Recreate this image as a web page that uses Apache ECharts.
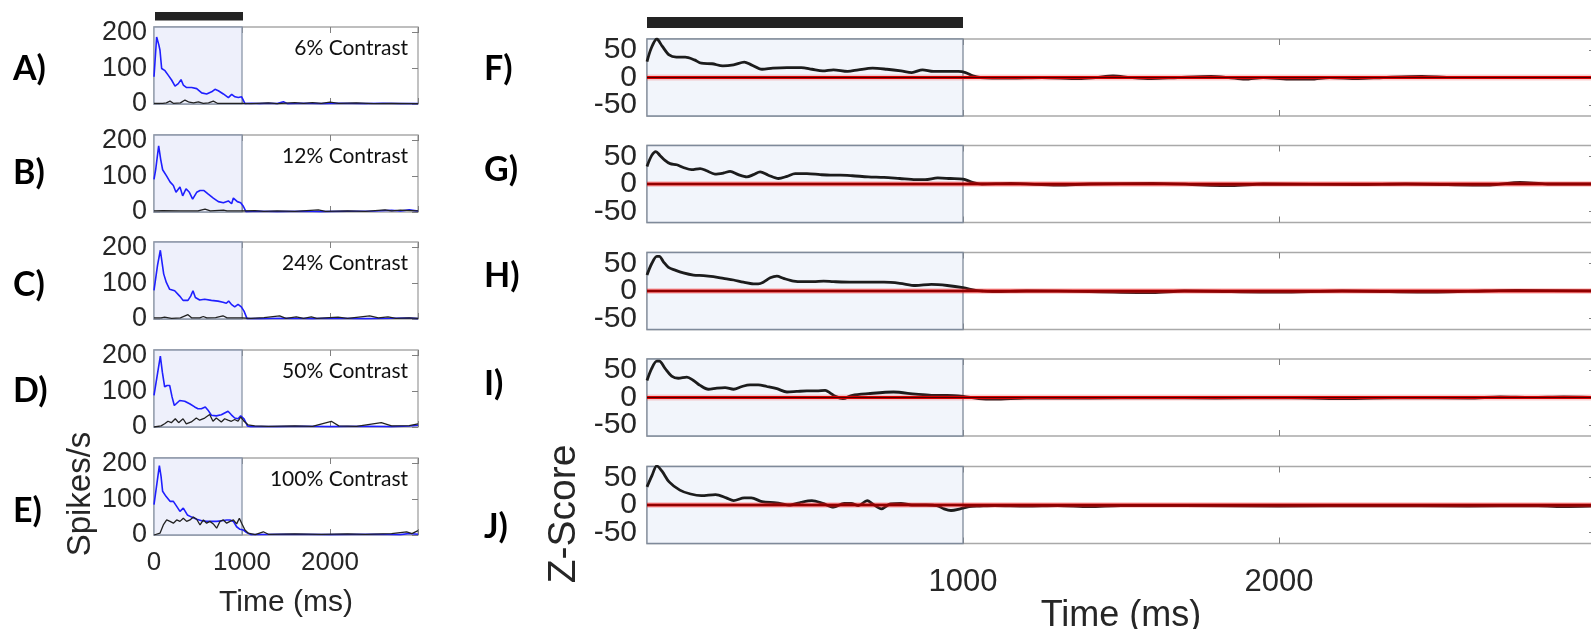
<!DOCTYPE html>
<html>
<head>
<meta charset="utf-8">
<script src="https://cdn.jsdelivr.net/npm/echarts@6/dist/echarts.min.js"></script>
<style>
  html, body { margin: 0; padding: 0; background: #fff; }
  #chart { width: 1591px; height: 629px; }
</style>
</head>
<body>
<div id="chart"></div>
<script>
// ---- axes, ticks and labels ----
const timeRange = [0, 3000];
const timeTicks = [0, 1000, 2000, 3000];
const leftTimeLabels = [0, 1000, 2000];
const rightTimeLabels = [1000, 2000];
const stimulus = [0, 1000];
const rateRange = [0, 215];
const rateTicks = [0, 100, 200];
const zRange = [-70, 70];
const zTicks = [-50, 0, 50];
const zBaseline = [[0, 0], [3000, 0]];
const contrasts = ['6% Contrast', '12% Contrast', '24% Contrast', '50% Contrast', '100% Contrast'];
const leftPanelLabels = ['A)', 'B)', 'C)', 'D)', 'E)'];
const rightPanelLabels = ['F)', 'G)', 'H)', 'I)', 'J)'];

// ---- firing rates, [time (ms), spikes/s] ----
const blue6 = [[0,76],[30,187],[42,187],[55,165],[68,150],[87,99],[125,93],[163,80],[200,67],[239,50],[276,57],[307,68],[333,53],[371,46],[428,46],[485,43],[542,31],[598,28],[655,34],[693,41],[731,37],[788,28],[845,18],[883,27],[920,20],[958,18],[996,20],[1034,1],[1100,2],[1200,1],[1300,2],[1400,1],[1470,6],[1520,1],[1700,2],[1900,1],[2100,2],[2400,1],[2600,2],[2800,1],[3000,1]];
const black6 = [[0,2],[100,2],[140,3],[182,8],[220,2],[300,3],[352,11],[400,5],[450,3],[504,6],[560,2],[620,3],[674,8],[720,2],[800,2],[1000,2],[1100,1],[1300,3],[1400,1],[1600,4],[1700,2],[1800,4],[1900,2],[2000,5],[2100,2],[2300,3],[2500,1],[2700,2],[3000,1]];

const blue12 = [[0,91],[20,120],[53,185],[76,147],[98,118],[144,100],[182,84],[220,74],[250,55],[295,70],[326,45],[364,65],[402,55],[439,36],[485,55],[523,60],[568,60],[617,50],[674,39],[731,29],[788,26],[845,31],[882,23],[902,39],[947,29],[985,26],[1015,16],[1045,1],[1200,2],[1400,1],[1700,2],[1900,1],[2200,2],[2500,3],[2700,5],[2800,3],[2900,6],[3000,3]];
const black12 = [[0,3],[100,4],[300,3],[500,3],[580,8],[640,3],[790,5],[830,3],[1000,3],[1148,4],[1250,2],[1400,3],[1600,2],[1867,6],[1950,2],[2200,3],[2400,2],[2625,6],[2700,3],[2800,5],[3000,3]];

const blue24 = [[0,80],[40,150],[72,192],[91,159],[110,126],[140,102],[178,83],[235,79],[292,64],[330,52],[386,52],[417,64],[443,79],[470,60],[519,53],[576,55],[652,52],[727,50],[784,47],[822,44],[848,50],[879,41],[917,34],[955,41],[992,34],[1023,22],[1057,1],[1200,1],[1500,2],[1800,1],[2000,2],[2400,1],[2700,2],[2900,3],[3000,1]];
const black24 = [[0,3],[80,3],[120,5],[200,2],[300,3],[386,12],[430,3],[520,3],[560,7],[600,3],[700,4],[784,9],[830,3],[1000,3],[1100,2],[1250,4],[1428,9],[1500,2],[1617,6],[1700,2],[1788,6],[1850,2],[2091,5],[2200,2],[2451,9],[2550,3],[2659,6],[2750,2],[2900,3],[3000,2]];

const blue50 = [[0,88],[72,198],[95,153],[121,112],[148,116],[178,116],[205,84],[231,60],[292,74],[349,72],[405,65],[462,56],[500,51],[538,51],[583,56],[614,47],[652,33],[708,31],[765,34],[841,44],[879,34],[917,25],[955,23],[985,31],[1023,23],[1061,3],[1100,1],[1400,1],[1700,2],[2000,1],[2400,2],[2700,1],[2900,3],[3000,5]];
const black50 = [[0,0],[80,3],[121,9],[159,16],[197,12],[242,23],[280,12],[330,23],[367,9],[424,14],[481,25],[519,19],[576,25],[633,35],[670,16],[708,25],[765,14],[803,23],[841,19],[879,16],[917,21],[955,16],[985,28],[1023,16],[1068,6],[1144,3],[1300,2],[1600,3],[1800,2],[2015,16],[2100,3],[2300,2],[2583,12],[2700,3],[2900,4],[3000,9]];

const blue100 = [[0,85],[61,194],[80,164],[98,122],[136,108],[182,94],[220,94],[258,80],[295,66],[333,75],[379,56],[428,50],[485,44],[542,40],[598,38],[655,38],[712,38],[769,40],[826,42],[864,42],[902,38],[939,23],[977,16],[1015,14],[1053,7],[1100,1],[1500,2],[2000,1],[2500,2],[2800,1],[2900,4],[3000,2]];
const black100 = [[0,0],[68,5],[106,28],[144,42],[182,38],[220,33],[258,42],[295,38],[333,47],[371,38],[409,42],[447,50],[485,44],[523,28],[561,42],[598,33],[636,38],[674,31],[712,19],[750,38],[788,42],[826,33],[864,38],[902,42],[939,31],[970,47],[996,33],[1034,14],[1072,5],[1150,1],[1242,9],[1300,2],[1600,3],[1900,2],[2200,3],[2400,2],[2700,4],[2871,9],[2930,4],[3000,12]];

// ---- z-scores, [time (ms), z] ----
const zScore6 = [[0,29],[14,54],[31,70],[48,57],[70,41],[93,37],[121,37],[150,32],[172,26],[206,25],[240,21],[274,23],[308,28],[330,23],[364,15],[398,17],[443,18],[488,18],[522,15],[556,12],[590,14],[635,11],[669,14],[714,17],[759,15],[804,12],[838,9],[872,14],[906,11],[940,11],[985,11],[1008,9],[1031,3],[1054,0],[1150,-1],[1250,0],[1367,-2],[1420,0],[1475,3],[1530,0],[1595,-2],[1680,0],[1785,2],[1840,0],[1892,-3],[1950,0],[2030,-3],[2100,-3],[2160,0],[2250,-2],[2330,0],[2452,2],[2550,0],[2800,0],[3000,0]];
const zScore12 = [[0,32],[15,52],[28,59],[41,52],[57,43],[73,37],[94,35],[115,30],[141,26],[168,28],[189,24],[215,18],[242,20],[263,23],[289,17],[316,13],[337,17],[358,22],[384,16],[416,10],[443,14],[469,19],[506,19],[548,17],[580,16],[612,16],[650,15],[700,13],[750,12],[800,10],[850,8],[880,8],[920,11],[960,10],[1000,9],[1030,3],[1060,0],[1150,1],[1300,-2],[1400,0],[1600,1],[1850,-3],[1950,0],[2250,-1],[2400,0],[2668,-2],[2763,3],[2850,0],[3000,0]];
const zScore24 = [[0,29],[15,50],[31,63],[39,63],[52,53],[68,43],[89,38],[115,33],[147,29],[179,28],[210,26],[242,23],[274,20],[305,16],[337,13],[352,13],[368,16],[390,24],[411,27],[432,23],[464,18],[495,17],[527,17],[559,18],[590,17],[650,16],[700,16],[750,16],[800,14],[850,10],[900,12],[950,10],[1000,6],[1040,1],[1060,0],[1100,-1],[1200,0],[1400,-1],[1600,-3],[1700,0],[2000,-2],[2200,0],[2500,-2],[2650,0],[2750,1],[3000,0]];
const zScore50 = [[0,31],[15,53],[31,66],[39,66],[57,53],[78,39],[99,35],[126,37],[147,31],[168,22],[194,15],[221,17],[247,18],[274,15],[300,20],[326,23],[352,23],[379,20],[411,16],[443,10],[474,11],[506,12],[537,12],[564,13],[580,8],[596,2],[620,-2],[650,4],[700,7],[780,10],[850,6],[900,4],[950,4],[1000,2],[1050,-2],[1100,-3],[1200,-1],[1400,-1],[1600,0],[1800,-1],[2000,0],[2200,-2],[2400,0],[2600,-1],[2700,1],[2800,0],[2900,1],[3000,0]];
const zScore100 = [[0,33],[16,54],[31,71],[48,61],[70,42],[104,27],[138,20],[172,17],[217,19],[251,13],[274,8],[308,13],[330,13],[364,6],[409,4],[454,0],[488,5],[522,8],[556,3],[590,-4],[624,3],[646,3],[669,-1],[697,8],[714,2],[742,-7],[770,2],[804,3],[838,0],[883,0],[917,-1],[940,-7],[962,-10],[991,-7],[1019,-3],[1053,-2],[1100,-1],[1200,-2],[1300,-1],[1400,-3],[1500,-1],[1700,-1],[2000,-2],[2300,-1],[2600,-2],[2800,-1],[2900,-3],[3000,-2]];

const rateBlue = [blue6, blue12, blue24, blue50, blue100];
const rateBlack = [black6, black12, black24, black50, black100];
const zScores = [zScore6, zScore12, zScore24, zScore50, zScore100];

// ---- layout ----
const LEFT = { left: 154, width: 264, height: 77, tops: [27, 135, 242, 350, 458] };
const RIGHT = { left: 647, width: 948, height: 77, tops: [39, 145.5, 252.5, 359, 466.5] };
const leftLetterY = [69, 173, 285, 391, 511];
const rightLetterY = [69, 170, 276, 384, 527];

const TXT = '#262626';
const AXFONT = 'Liberation Sans, Arial, sans-serif';
const plain = (v) => String(v);

const grids = [], xAxes = [], yAxes = [], series = [], graphics = [];

function addGrid(box) {
  grids.push(Object.assign({ containLabel: false, outerBoundsMode: 'none' }, box));
  return grids.length - 1;
}

function tick(vals) {
  return { show: true, inside: true, length: 6, lineStyle: { color: '#808080', width: 1 }, customValues: vals };
}
const noLine = { show: false, onZero: false };

function addAxes(g, o) {
  const xi = xAxes.length;
  xAxes.push({
    gridIndex: g, type: 'value', position: 'bottom', min: timeRange[0], max: timeRange[1],
    axisLine: noLine, splitLine: { show: false }, axisTick: tick(timeTicks),
    axisLabel: {
      show: !!o.xLabels, customValues: o.xLabels || timeTicks, color: TXT, formatter: plain,
      fontFamily: AXFONT, fontSize: o.xFont, margin: o.xMargin, hideOverlap: false
    },
    name: o.xName || '', nameLocation: 'middle', nameGap: o.xNameGap,
    nameTextStyle: { color: TXT, fontFamily: AXFONT, fontSize: o.xNameFont }
  });
  xAxes.push({
    gridIndex: g, type: 'value', position: 'top', min: timeRange[0], max: timeRange[1],
    axisLine: noLine, splitLine: { show: false }, axisTick: tick(timeTicks),
    axisLabel: { show: false, customValues: timeTicks }
  });
  const yi = yAxes.length;
  // y tick labels are split over two overlaid axes so that closely spaced
  // large labels are never dropped by the label-overlap pass
  const yLabelStyle = (vals) => ({
    show: true, customValues: vals, color: TXT, formatter: plain, fontFamily: AXFONT,
    fontSize: o.yFont, margin: o.yMargin, hideOverlap: false, showMinLabel: true, showMaxLabel: true
  });
  yAxes.push({
    gridIndex: g, type: 'value', position: 'left', min: o.yRange[0], max: o.yRange[1],
    axisLine: noLine, splitLine: { show: false }, axisTick: tick(o.yTicks),
    axisLabel: yLabelStyle(o.yTicks.filter((_, k) => k % 2 === 0))
  });
  yAxes.push({
    gridIndex: g, type: 'value', position: 'left', min: o.yRange[0], max: o.yRange[1],
    axisLine: noLine, splitLine: { show: false }, axisTick: { show: false },
    axisLabel: yLabelStyle(o.yTicks.filter((_, k) => k % 2 === 1))
  });
  yAxes.push({
    gridIndex: g, type: 'value', position: 'right', min: o.yRange[0], max: o.yRange[1],
    axisLine: noLine, splitLine: { show: false }, axisTick: tick(o.yTicks),
    axisLabel: { show: false, customValues: o.yTicks }
  });
  return { xi, yi };
}

// black bar marking the stimulus window
function addStimulusBar(box) {
  const g = addGrid(box);
  const xi = xAxes.length, yi = yAxes.length;
  xAxes.push({ gridIndex: g, type: 'value', min: timeRange[0], max: timeRange[1], show: false });
  yAxes.push({ gridIndex: g, type: 'value', min: 0, max: 1, show: false });
  series.push({
    type: 'custom', xAxisIndex: xi, yAxisIndex: yi, silent: true, data: [stimulus],
    renderItem(params, api) {
      const a = api.coord([api.value(0), 0]);
      const b = api.coord([api.value(1), 0]);
      const cs = params.coordSys;
      return { type: 'rect', shape: { x: a[0], y: cs.y, width: b[0] - a[0], height: cs.height }, style: { fill: '#232323' } };
    }
  });
}

function shade(fill, border) {
  return {
    silent: true, z: 1,
    itemStyle: { color: fill, borderColor: border, borderWidth: 1.3 },
    data: [[{ xAxis: stimulus[0] }, { xAxis: stimulus[1] }]]
  };
}

function label(text, x, y, font, opts) {
  return {
    type: 'text', x, y,
    style: Object.assign({ text, font, fill: TXT, align: 'center', verticalAlign: 'middle', textAlign: 'center', textVerticalAlign: 'middle' }, opts || {})
  };
}

const boxStyle = { show: true, backgroundColor: '#fff', borderColor: '#a9a9a9', borderWidth: 1.4 };

// ---- left column: firing rates ----
addStimulusBar({ left: LEFT.left + 1, width: LEFT.width, top: 12, height: 8.5 });
for (let i = 0; i < 5; i++) {
  const last = i === 4;
  const g = addGrid(Object.assign({ left: LEFT.left, top: LEFT.tops[i], width: LEFT.width, height: LEFT.height }, boxStyle));
  const ax = addAxes(g, {
    yRange: rateRange, yTicks: rateTicks, yFont: 27, yMargin: 7,
    xLabels: last ? leftTimeLabels : null, xFont: 26, xMargin: 15,
    xName: last ? 'Time (ms)' : '', xNameGap: 53, xNameFont: 30
  });
  series.push({
    type: 'line', xAxisIndex: ax.xi, yAxisIndex: ax.yi, data: rateBlue[i], symbol: 'none',
    lineStyle: { color: '#1f1fff', width: 1.6 }, z: 3, markArea: shade('#eef0fb', '#8c97aa')
  });
  series.push({
    type: 'line', xAxisIndex: ax.xi, yAxisIndex: ax.yi, data: rateBlack[i], symbol: 'none',
    lineStyle: { color: '#222', width: 1.3 }, z: 4
  });
  graphics.push(label(contrasts[i], LEFT.left + LEFT.width - 10, LEFT.tops[i] + 21,
    '21px Lato, "Open Sans", sans-serif', { fill: '#111', align: 'right', textAlign: 'right' }));
  graphics.push(label(leftPanelLabels[i], 13, leftLetterY[i],
    'bold 34px Lato, "Open Sans", sans-serif', { fill: '#000', align: 'left', textAlign: 'left' }));
}

// ---- right column: z-scores ----
addStimulusBar({ left: RIGHT.left, width: RIGHT.width, top: 17, height: 11 });
for (let i = 0; i < 5; i++) {
  const last = i === 4;
  const g = addGrid(Object.assign({ left: RIGHT.left, top: RIGHT.tops[i], width: RIGHT.width, height: RIGHT.height }, boxStyle));
  const ax = addAxes(g, {
    yRange: zRange, yTicks: zTicks, yFont: 30, yMargin: 10,
    xLabels: last ? rightTimeLabels : null, xFont: 31, xMargin: 23,
    xName: last ? 'Time (ms)' : '', xNameGap: 46, xNameFont: 36
  });
  series.push({
    type: 'line', xAxisIndex: ax.xi, yAxisIndex: ax.yi, data: zScores[i], symbol: 'none', smooth: 0.3,
    lineStyle: { color: '#1c1c1c', width: 2.8 }, z: 3, markArea: shade('#f2f5fb', '#7f8a9a')
  });
  // zero reference: pink halo, red band, dark core
  series.push({ type: 'line', xAxisIndex: ax.xi, yAxisIndex: ax.yi, data: zBaseline, symbol: 'none', silent: true,
    lineStyle: { color: 'rgba(240,40,40,0.22)', width: 6 }, z: 4 });
  series.push({ type: 'line', xAxisIndex: ax.xi, yAxisIndex: ax.yi, data: zBaseline, symbol: 'none', silent: true,
    lineStyle: { color: '#d80000', width: 3 }, z: 5 });
  series.push({ type: 'line', xAxisIndex: ax.xi, yAxisIndex: ax.yi, data: zBaseline, symbol: 'none', silent: true,
    lineStyle: { color: '#4a0000', width: 1.2 }, z: 6 });
  graphics.push(label(rightPanelLabels[i], 484, rightLetterY[i],
    'bold 34px Lato, "Open Sans", sans-serif', { fill: '#000', align: 'left', textAlign: 'left' }));
}

// rotated y titles
graphics.push(Object.assign(label('Spikes/s', 81, 494, '33px "Liberation Sans", Arial, sans-serif'), { rotation: Math.PI / 2 }));
graphics.push(Object.assign(label('Z-Score', 564, 514, '39px "Liberation Sans", Arial, sans-serif'), { rotation: Math.PI / 2 }));

const chart = echarts.init(document.getElementById('chart'), null, { renderer: 'canvas' });
chart.setOption({
  animation: false,
  backgroundColor: '#fff',
  grid: grids,
  xAxis: xAxes,
  yAxis: yAxes,
  series: series,
  graphic: graphics
});
</script>
</body>
</html>
